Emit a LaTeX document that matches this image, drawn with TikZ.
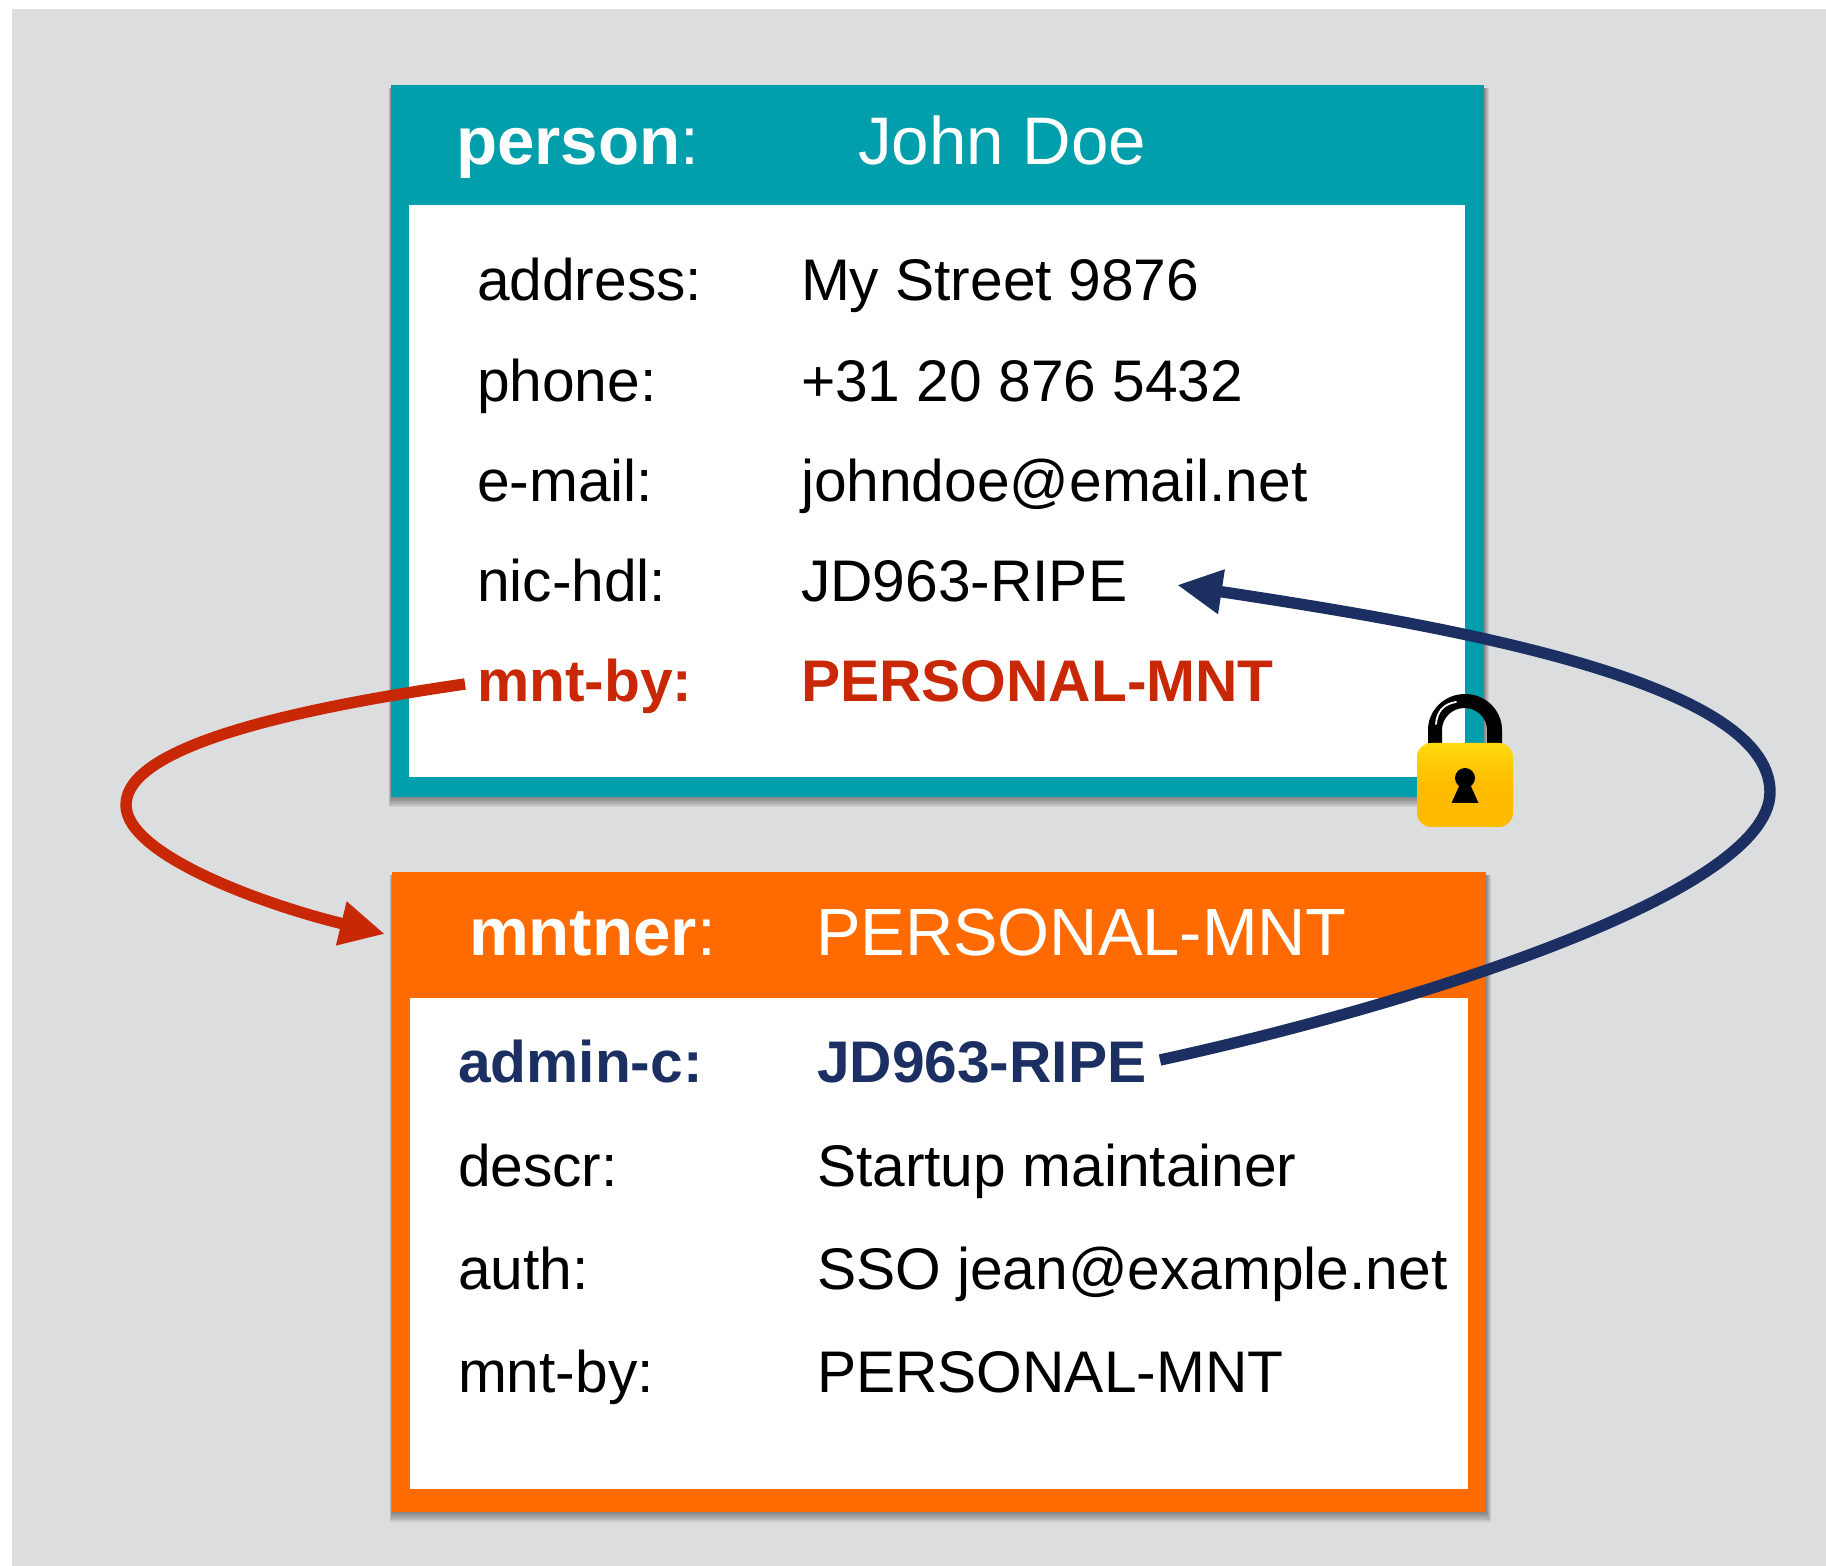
\documentclass[tikz,border=0pt]{standalone}
\usepackage{fontspec}
\setmainfont{Liberation Sans}
\definecolor{bggray}{HTML}{DCDDDF}
\definecolor{teal}{HTML}{019EAB}
\definecolor{orng}{HTML}{FF6B00}
\definecolor{redc}{HTML}{C92806}
\definecolor{navy}{HTML}{1B2F62}
\definecolor{lockt}{HTML}{FFFF33}
\definecolor{lockm}{HTML}{FFD60C}
\definecolor{lockb}{HTML}{FFBB00}
\usetikzlibrary{arrows.meta}
\pgfdeclareverticalshading{lockshade}{100bp}{
  color(0bp)=(lockb); color(50bp)=(lockb); color(72bp)=(lockm); color(100bp)=(lockt)}
\newcommand{\fsBody}{\fontsize{29.35}{34}\selectfont}
\newcommand{\fsHead}{\fontsize{33.4}{40}\selectfont}
\newcommand{\fsHeadB}{\fontsize{33.65}{40}\selectfont}
\newcommand{\softshadow}[4]{%
  \foreach \d in {5,4,3,2,1}{%
    \fill[black,opacity=0.085] (#1-0.5*\d,#2+3) rectangle (#3+\d,#4+2*\d);}}
\tikzset{
  x=0.5pt,y=-0.5pt,
  txt/.style={anchor=base west,inner sep=0pt,outer sep=0pt,font=\fsBody,text=black},
  hd/.style={anchor=base west,inner sep=0pt,outer sep=0pt,font=\fsHead,text=white},
  hdb/.style={hd,font=\fsHeadB},
  redt/.style={txt,text=redc,font=\fsBody\bfseries},
  navt/.style={txt,text=navy,font=\fsBody\bfseries},
  redlink/.style={draw=redc,line width=5.7pt},
  navlink/.style={draw=navy,line width=5.7pt}
}
\begin{document}
\begin{tikzpicture}
\useasboundingbox (0,0) rectangle (1826,1566);
\fill[bggray] (12,9) rectangle (1826,1566);
% person card
\softshadow{391}{85}{1484}{797}
\fill[teal] (391,85) rectangle (1484,797);
\fill[white] (409,205) rectangle (1465,777);
\node[hdb] (pk) at (456,165) {\textbf{person}:};
\node[hdb] (pv) at (858,165) {John Doe};
\node[txt] (a1) at (477,301) {address:};
\node[txt] (a2) at (801,301) {My Street 9876};
\node[txt] (b1) at (477,402) {phone:};
\node[txt] (b2) at (801,402) {+31 20 876 5432};
\node[txt] (c1) at (477,502) {e-mail:};
\node[txt] (c2) at (801,502) {johndoe@email.net};
\node[txt] (d1) at (477,602) {nic-hdl:};
\node[txt] (d2) at (801,602) {JD963-RIPE};
\node[redt] (e1) at (477,702) {mnt-by:};
\node[redt] (e2) at (801,702) {PERSONAL-MNT};
% mntner card
\softshadow{392}{872}{1486}{1512}
\fill[orng] (392,872) rectangle (1486,1512);
\fill[white] (410,998) rectangle (1468,1489);
\node[hdb] (mk) at (469,955) {\textbf{mntner}:};
\node[hd] (mv) at (816,955) {PERSONAL-MNT};
\node[navt] (f1) at (458,1082) {admin-c:};
\node[navt] (f2) at (817,1082) {JD963-RIPE};
\node[txt] (g1) at (458,1186) {descr:};
\node[txt] (g2) at (817,1186) {Startup maintainer};
\node[txt] (h1) at (458,1289) {auth:};
\node[txt] (h2) at (817,1289) {SSO jean@example.net};
\node[txt] (i1) at (458,1392) {mnt-by:};
\node[txt] (i2) at (817,1392) {PERSONAL-MNT};
% lock
\fill[black] (1428,745) -- (1428,730) arc[start angle=180,end angle=0,x radius=37,y radius=-36] -- (1502,745) -- (1487,745) -- (1487,730) arc[start angle=0,end angle=180,x radius=22.5,y radius=-22] -- (1442,745) -- cycle;
\draw[white,line width=0.9pt,line cap=round] (1436,724) .. controls (1437,712) and (1443,704) .. (1456,702);
\shade[shading=lockshade,rounded corners=7pt] (1417,743) rectangle (1513,827);
\fill[black] (1465,778) circle[radius=10];
\fill[black] (1461,782) -- (1469,782) -- (1478.5,803) -- (1451.5,803) -- cycle;
% connectors
\coordinate (rs) at (465,684);
\coordinate (re) at (385,934);
\coordinate (bs) at (1160,1060);
\coordinate (be) at (1177,585);
\draw[redlink,-{Triangle[length=22.5pt,width=21pt]}] (rs) .. controls (300,708) and (126,745) .. (126,805) .. controls (126,855) and (265,905) .. (re);
\draw[navlink,-{Triangle[length=22.5pt,width=21pt]}] (bs) .. controls (1400,1008) and (1770,895) .. (1770,792) .. controls (1770,680) and (1440,625) .. (be);
\end{tikzpicture}
\end{document}
